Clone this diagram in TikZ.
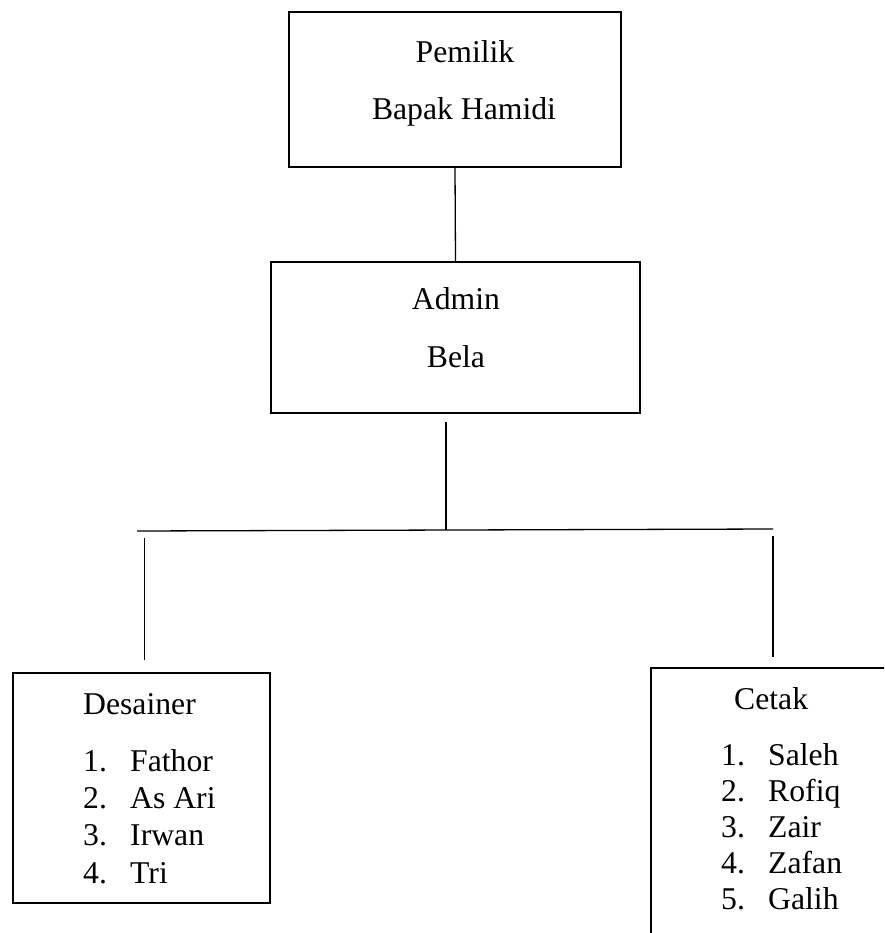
\documentclass[tikz,border=0pt]{standalone}
\usepackage{fontspec}
\setmainfont{Liberation Serif}
\begin{document}
\begin{tikzpicture}[x=1pt,y=-1pt,
  box/.style={draw,line width=2pt,inner sep=0pt},
  conn/.style={line width=1.3pt},
  txt/.style={inner sep=0pt,font=\fontsize{31.7}{38}\selectfont}]
\useasboundingbox (0,0) rectangle (884,933);
\clip (0,0) rectangle (884,933);
% boxes
\node[box, minimum width=332pt, minimum height=155pt] (pemilik) at (455,89.5) {};
\node[box, minimum width=369pt, minimum height=151pt] (admin) at (455.5,337.5) {};
\node[box, minimum width=257pt, minimum height=230pt] (desainer) at (141.5,788) {};
\node[box, minimum width=250pt, minimum height=292pt] (cetak) at (776,814) {};
% texts
\node[txt, anchor=base] (t1) at (465,63) {Pemilik};
\node[txt, anchor=base] (t2) at (464,120) {Bapak Hamidi};
\node[txt, anchor=base] (t3) at (456,309) {Admin};
\node[txt, anchor=base] (t4) at (456,367) {Bela};
\node[txt, anchor=base west] (d0) at (83,714) {Desainer};
\node[txt, anchor=base west] (d1n) at (83,771) {1.};
\node[txt, anchor=base west] (d1) at (130,771) {Fathor};
\node[txt, anchor=base west] (d2n) at (83,808) {2.};
\node[txt, anchor=base west] (d2) at (130,808) {As Ari};
\node[txt, anchor=base west] (d3n) at (83,845) {3.};
\node[txt, anchor=base west] (d3) at (130,845) {Irwan};
\node[txt, anchor=base west] (d4n) at (83,883) {4.};
\node[txt, anchor=base west] (d4) at (130,883) {Tri};
\node[txt, anchor=base west] (c0) at (734,709) {Cetak};
\node[txt, anchor=base west] (c1n) at (721,765) {1.};
\node[txt, anchor=base west] (c1) at (768,765) {Saleh};
\node[txt, anchor=base west] (c2n) at (721,801) {2.};
\node[txt, anchor=base west] (c2) at (768,801) {Rofiq};
\node[txt, anchor=base west] (c3n) at (721,837) {3.};
\node[txt, anchor=base west] (c3) at (768,837) {Zair};
\node[txt, anchor=base west] (c4n) at (721,873) {4.};
\node[txt, anchor=base west] (c4) at (768,873) {Zafan};
\node[txt, anchor=base west] (c5n) at (721,909) {5.};
\node[txt, anchor=base west] (c5) at (768,909) {Galih};
% connector coordinates
\coordinate (a1) at (446,422);
\coordinate (a2) at (446,530);
\coordinate (hl) at (137,531);
\coordinate (hr) at (773,529);
\coordinate (dl1) at (144.5,538);
\coordinate (dl2) at (144.5,660);
\coordinate (cr1) at (773,536);
\coordinate (cr2) at (773,657);
% connectors
\draw[conn] (pemilik.south) -- (admin.north);
\draw[conn] (a1) -- (a2);
\draw[conn] (hl) -- (hr);
\draw[conn] (dl1) -- (dl2);
\draw[conn] (cr1) -- (cr2);
\end{tikzpicture}
\end{document}
